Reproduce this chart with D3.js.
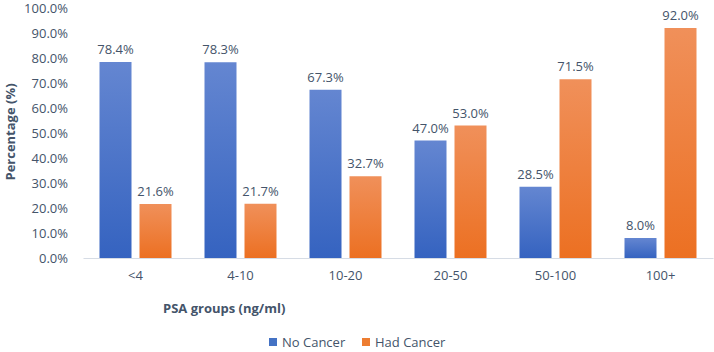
<!DOCTYPE html>
<html>
<head>
<meta charset="utf-8">
<script src="https://cdn.jsdelivr.net/npm/d3@7"></script>
<style>
body { margin: 0; background: #fff; }
text { font-family: "Open Sans", "Noto Sans", sans-serif; fill: #44546a; }
</style>
</head>
<body>
<script>
var w = 714;
var h = 352;

var groups = ["<4", "4-10", "10-20", "20-50", "50-100", "100+"];
var noCancer = [78.4, 78.3, 67.3, 47.0, 28.5, 8.0];
var hadCancer = [21.6, 21.7, 32.7, 53.0, 71.5, 92.0];
var seriesNames = ["No Cancer", "Had Cancer"];
var yTicks = [0, 10, 20, 30, 40, 50, 60, 70, 80, 90, 100];

var svg = d3.select("body")
    .append("svg")
    .attr("width", w)
    .attr("height", h);

var defs = svg.append("defs");
var grads = [["gBlue", "#6486d1", "#3563c0"], ["gOrange", "#f0905a", "#ec7022"]];
grads.forEach(function(g) {
    var lg = defs.append("linearGradient")
        .attr("id", g[0])
        .attr("x1", 0).attr("y1", 0).attr("x2", 0).attr("y2", 1);
    lg.append("stop").attr("offset", "0%").attr("stop-color", g[1]);
    lg.append("stop").attr("offset", "100%").attr("stop-color", g[2]);
});

var xScale = d3.scaleBand()
    .domain(groups)
    .range([83, 713]);

var inner = d3.scaleBand()
    .domain([0, 1])
    .range([-36, 36])
    .paddingInner(0.2);

var yScale = d3.scaleLinear()
    .domain([0, 100])
    .range([258, 8]);

// y axis labels
var yAxis = svg.append("g")
    .attr("transform", "translate(68,0)")
    .call(d3.axisLeft(yScale).tickValues(yTicks).tickSize(0).tickPadding(0)
        .tickFormat(function(d) { return d.toFixed(1) + "%"; }));
yAxis.select(".domain").remove();
yAxis.selectAll("text").style("font-size", "13px").attr("fill", "#44546a");

// x axis
var xAxis = svg.append("g")
    .attr("transform", "translate(0,258)")
    .call(d3.axisBottom(xScale).tickSize(0).tickPadding(13));
xAxis.select(".domain").attr("stroke", "#d6dce5").attr("stroke-width", 1.2);
xAxis.selectAll("text").style("font-size", "13px").attr("fill", "#44546a");

var seriesData = [noCancer, hadCancer];
var fills = ["url(#gBlue)", "url(#gOrange)"];

seriesData.forEach(function(vals, s) {
    var g = svg.append("g");
    g.selectAll("rect")
        .data(vals)
        .enter()
        .append("rect")
        .attr("x", function(d, i) { return xScale(groups[i]) + xScale.bandwidth() / 2 + inner(s); })
        .attr("y", function(d) { return yScale(d); })
        .attr("width", inner.bandwidth())
        .attr("height", function(d) { return yScale(0) - yScale(d); })
        .attr("fill", fills[s]);

    g.selectAll("text")
        .data(vals)
        .enter()
        .append("text")
        .attr("x", function(d, i) { return xScale(groups[i]) + xScale.bandwidth() / 2 + inner(s) + inner.bandwidth() / 2; })
        .attr("y", function(d) { return yScale(d) - 8; })
        .attr("text-anchor", "middle")
        .style("font-size", "13px")
        .text(function(d) { return d.toFixed(1) + "%"; });
});

// axis titles
svg.append("text")
    .attr("transform", "translate(15,132) rotate(-90)")
    .attr("text-anchor", "middle")
    .style("font-size", "13px")
    .style("font-weight", "bold")
    .text("Percentage (%)");

svg.append("text")
    .attr("x", 163)
    .attr("y", 313)
    .style("font-size", "13px")
    .style("font-weight", "bold")
    .text("PSA groups (ng/ml)");

// legend
var legendX = [269, 362];
var legendColors = ["#4472c4", "#ed7d31"];
seriesNames.forEach(function(name, i) {
    svg.append("rect")
        .attr("x", legendX[i])
        .attr("y", 338)
        .attr("width", 8)
        .attr("height", 8)
        .attr("fill", legendColors[i]);
    svg.append("text")
        .attr("x", legendX[i] + 13)
        .attr("y", 347)
        .style("font-size", "13px")
        .text(name);
});
</script>
</body>
</html>
